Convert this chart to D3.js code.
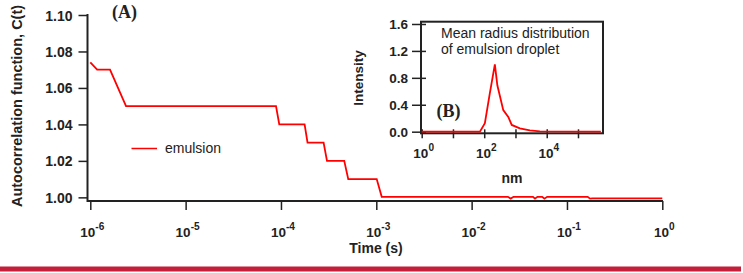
<!DOCTYPE html>
<html>
<head>
<meta charset="utf-8">
<script src="https://cdn.jsdelivr.net/npm/d3@7"></script>
<style>
  body { margin: 0; background: #fff; }
  svg { display: block; }
  text { font-family: 'Liberation Sans', Arial, sans-serif; fill: #222; }
</style>
</head>
<body>
<svg id="chart" width="743" height="273"></svg>
<script>
'use strict';

// main panel (A): autocorrelation vs lag time
var timeS = [1e-6, 1.18e-6, 1.61e-6, 2.37e-6, 8.87e-5, 9.6e-5, 1.77e-4, 1.9e-4,
  2.8e-4, 3.04e-4, 4.61e-4, 5.08e-4, 1.01e-3, 1.14e-3,
  0.024, 0.0257, 0.0275, 0.044, 0.0462, 0.049, 0.055, 0.058, 0.062,
  0.165, 0.1746, 0.185, 1];
var corr = [1.074, 1.070, 1.070, 1.050, 1.050, 1.040, 1.040, 1.030,
  1.030, 1.020, 1.020, 1.010, 1.010, 1.0003,
  1.0003, 0.9993, 1.0003, 1.0003, 0.9993, 1.0003, 1.0003, 0.9993, 1.0003,
  1.0003, 0.9993, 0.9994, 0.9994];
var corrTicks = [1.00, 1.02, 1.04, 1.06, 1.08, 1.10];
var timeExp = [-6, -5, -4, -3, -2, -1, 0];

// inset panel (B): mean radius distribution
var radiusNm = [1, 73, 105, 151, 219, 263, 407, 589, 759, 1380, 2880, 6030, 5.4e5];
var intensity = [0, 0, 0.125, 0.57, 1.0, 0.69, 0.32, 0.22, 0.10, 0.05, 0.02, 0.005, 0];
var intTicks = [0, 0.4, 0.8, 1.2, 1.6];
var intMinor = [0.2, 0.6, 1.0, 1.4];
var nmExp = [0, 1, 2, 3, 4, 5];
var nmLabelExp = [0, 2, 4];

var d3 = window.d3,
    svg = d3.select('#chart'),
    ink = '#222',
    red = '#ff0000';

// superscript label "10^n", centred on x
function powLabel(g, x, y, n, size) {
  var t = g.append('text')
    .attr('x', x).attr('y', y)
    .attr('text-anchor', 'middle')
    .style('font-size', size + 'px')
    .style('font-weight', 'bold');
  t.append('tspan').text('10');
  t.append('tspan').attr('dy', -size * 0.55)
    .style('font-size', (size * 0.75) + 'px').text(n);
}

// ---------- panel A ----------
var x = d3.scaleLog().domain([1e-6, 1]).range([90.3, 662.3]);
var y = d3.scaleLinear().domain([0.998, 1.10]).range([201, 15]);

var minorT = [];
timeExp.slice(0, -1).forEach(function(e) {
  for (var k = 2; k <= 9; k++) minorT.push(k * Math.pow(10, e));
});

var gx = svg.append('g').attr('transform', 'translate(0,201)');
gx.call(d3.axisBottom(x).tickValues(minorT).tickSize(5).tickFormat(''));
gx.call(d3.axisBottom(x).tickValues(timeExp.map(function(e) { return Math.pow(10, e); }))
  .tickSize(9).tickFormat(''));
gx.selectAll('.domain').remove();
gx.selectAll('line').attr('stroke', ink).attr('stroke-width', 1.5);
svg.append('line').attr('x1', 87).attr('x2', 663).attr('y1', 201).attr('y2', 201)
  .attr('stroke', ink).attr('stroke-width', 2);

timeExp.forEach(function(e) {
  powLabel(svg, x(Math.pow(10, e)) + 2, 237, String(e), 13.5);
});

var gy = svg.append('g').attr('transform', 'translate(87.5,0)');
gy.call(d3.axisLeft(y).tickValues(corrTicks).tickSize(9).tickSizeOuter(0)
  .tickFormat(d3.format('.2f')));
gy.select('.domain').attr('stroke', ink).attr('stroke-width', 2)
  .attr('d', 'M0,14V202');
gy.selectAll('line').attr('stroke', ink).attr('stroke-width', 1.5);
gy.selectAll('text').attr('x', -15).attr('dy', '0.36em')
  .style('font-size', '14px').style('font-weight', 'bold')
  .style('font-family', "'Liberation Sans', Arial, sans-serif").attr('fill', ink);

svg.append('path')
  .datum(timeS.map(function(t, i) { return [t, corr[i]]; }))
  .attr('fill', 'none').attr('stroke', red).attr('stroke-width', 1.8)
  .attr('d', d3.line().x(function(d) { return x(d[0]); }).y(function(d) { return y(d[1]); }));

svg.append('text').attr('transform', 'translate(22,106) rotate(-90)')
  .attr('text-anchor', 'middle')
  .style('font-size', '14.5px').style('font-weight', 'bold')
  .text('Autocorrelation function, C(t)');

svg.append('text').attr('x', 376).attr('y', 253).attr('text-anchor', 'middle')
  .style('font-size', '14px').style('font-weight', 'bold').text('Time (s)');

svg.append('text').attr('x', 112).attr('y', 18)
  .style('font-family', "'Liberation Serif', 'Times New Roman', serif")
  .style('font-size', '18px').style('font-weight', 'bold').text('(A)');

// legend
svg.append('line').attr('x1', 131.5).attr('x2', 157).attr('y1', 148.5).attr('y2', 148.5)
  .attr('stroke', red).attr('stroke-width', 1.5);
svg.append('text').attr('x', 165).attr('y', 153).style('font-size', '14px').text('emulsion');

// ---------- panel B (inset) ----------
var xi = d3.scaleLog().domain([0.95, Math.pow(10, 5.8)]).range([421, 603]);
var yi = d3.scaleLinear().domain([-0.024, 1.634]).range([133.3, 21.7]);

svg.append('rect').attr('x', 421).attr('y', 21.7)
  .attr('width', 182).attr('height', 111.6)
  .attr('fill', 'none').attr('stroke', ink).attr('stroke-width', 2);

var gxi = svg.append('g').attr('transform', 'translate(0,133.3)');
gxi.call(d3.axisBottom(xi).tickValues(nmExp.map(function(e) { return Math.pow(10, e); }))
  .tickFormat(''));
gxi.select('.domain').remove();
gxi.selectAll('line').attr('y1', -4).attr('y2', 5).attr('stroke', ink).attr('stroke-width', 1.5);
nmLabelExp.forEach(function(e) {
  powLabel(svg, xi(Math.pow(10, e)) + 2, 158, String(e), 13.5);
});

var gyi = svg.append('g').attr('transform', 'translate(421,0)');
gyi.call(d3.axisLeft(yi).tickValues(intMinor).tickFormat(''));
gyi.call(d3.axisLeft(yi).tickValues(intTicks).tickFormat(d3.format('.1f')));
gyi.selectAll('.domain').remove();
gyi.selectAll('.tick line').attr('x2', 4).attr('stroke', ink).attr('stroke-width', 1.5);
gyi.selectAll('.tick').filter(function(d) { return intTicks.indexOf(d) >= 0; })
  .select('line').attr('x1', -9).attr('x2', 5);
gyi.selectAll('.tick').filter(function(d) { return intTicks.indexOf(d) < 0; })
  .select('line').attr('x1', -4);
gyi.selectAll('text').attr('x', -13).attr('dy', '0.36em')
  .style('font-size', '13.5px').style('font-weight', 'bold')
  .style('font-family', "'Liberation Sans', Arial, sans-serif").attr('fill', ink);

svg.append('path')
  .datum(radiusNm.map(function(r, i) { return [r, intensity[i]]; }))
  .attr('fill', 'none').attr('stroke', red).attr('stroke-width', 1.8)
  .attr('d', d3.line().x(function(d) { return xi(d[0]); }).y(function(d) { return yi(d[1]); }));

svg.append('text').attr('transform', 'translate(363,78) rotate(-90)')
  .attr('text-anchor', 'middle')
  .style('font-size', '13.5px').style('font-weight', 'bold').text('Intensity');

svg.append('text').attr('x', 512).attr('y', 183).attr('text-anchor', 'middle')
  .style('font-size', '14px').style('font-weight', 'bold').text('nm');

svg.append('text').attr('x', 441).attr('y', 37.5).style('font-size', '14px')
  .text('Mean radius distribution');
svg.append('text').attr('x', 441).attr('y', 53.5).style('font-size', '14px')
  .text('of emulsion droplet');

svg.append('text').attr('x', 436.5).attr('y', 117)
  .style('font-family', "'Liberation Serif', 'Times New Roman', serif")
  .style('font-size', '18px').style('font-weight', 'bold').text('(B)');

// bottom rule
svg.append('rect').attr('x', 0).attr('y', 266.5).attr('width', 741).attr('height', 5)
  .attr('fill', '#c41e3a');
</script>
</body>
</html>
